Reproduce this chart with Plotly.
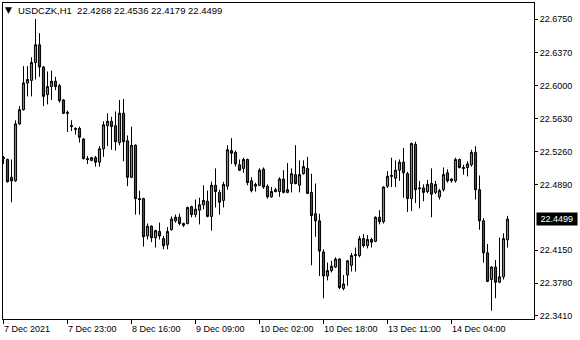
import plotly.graph_objects as go

# OHLC values (USDCZK, H1)
opens = [22.518,22.517,22.497,22.493,22.557,22.573,22.603,22.606,22.626,22.646,
         22.621,22.590,22.599,22.605,22.600,22.584,22.570,22.554,22.552,22.552,
         22.540,22.518,22.516,22.519,22.514,22.529,22.555,22.560,22.555,22.536,
         22.569,22.538,22.497,22.533,22.473,22.473,22.431,22.442,22.429,22.436,
         22.428,22.421,22.438,22.448,22.452,22.445,22.445,22.464,22.455,22.460,
         22.466,22.470,22.453,22.488,22.480,22.471,22.487,22.527,22.525,22.511,
         22.507,22.517,22.493,22.487,22.488,22.506,22.487,22.475,22.483,22.481,
         22.495,22.480,22.490,22.500,22.488,22.501,22.507,22.480,22.456,22.448,
         22.413,22.386,22.392,22.396,22.405,22.372,22.387,22.398,22.409,22.409,
         22.428,22.420,22.427,22.425,22.452,22.447,22.487,22.498,22.496,22.505,
         22.514,22.501,22.473,22.534,22.484,22.485,22.481,22.490,22.480,22.475,
         22.483,22.502,22.493,22.493,22.517,22.508,22.508,22.511,22.525,22.483,
         22.448,22.412,22.382,22.396,22.379,22.385,22.4268]
highs = [22.521,22.518,22.517,22.561,22.577,22.622,22.622,22.632,22.675,22.659,
         22.622,22.616,22.617,22.610,22.602,22.585,22.572,22.561,22.553,22.554,
         22.541,22.521,22.520,22.521,22.532,22.560,22.569,22.565,22.571,22.584,
         22.585,22.544,22.554,22.534,22.482,22.474,22.445,22.443,22.438,22.446,
         22.431,22.441,22.453,22.455,22.456,22.446,22.464,22.465,22.472,22.474,
         22.488,22.482,22.492,22.507,22.483,22.492,22.533,22.541,22.527,22.517,
         22.519,22.518,22.497,22.491,22.507,22.508,22.489,22.486,22.485,22.497,
         22.505,22.513,22.507,22.533,22.516,22.516,22.520,22.501,22.490,22.456,
         22.416,22.401,22.403,22.407,22.406,22.387,22.404,22.412,22.418,22.431,
         22.433,22.432,22.429,22.453,22.460,22.487,22.504,22.519,22.516,22.517,
         22.530,22.503,22.536,22.537,22.493,22.489,22.494,22.507,22.493,22.484,
         22.508,22.506,22.496,22.519,22.518,22.511,22.515,22.528,22.532,22.499,
         22.451,22.422,22.397,22.404,22.429,22.434,22.4536]
lows = [22.512,22.491,22.469,22.492,22.556,22.572,22.588,22.588,22.607,22.610,
        22.577,22.579,22.584,22.595,22.581,22.568,22.548,22.549,22.545,22.536,
        22.517,22.512,22.515,22.509,22.509,22.520,22.532,22.528,22.527,22.533,
        22.515,22.487,22.496,22.455,22.455,22.419,22.427,22.424,22.418,22.427,
        22.416,22.416,22.437,22.446,22.443,22.441,22.444,22.452,22.452,22.444,
        22.461,22.452,22.437,22.463,22.455,22.463,22.483,22.512,22.509,22.504,
        22.502,22.488,22.480,22.481,22.487,22.484,22.473,22.474,22.480,22.475,
        22.479,22.479,22.480,22.489,22.480,22.500,22.478,22.398,22.430,22.386,
        22.361,22.381,22.390,22.395,22.371,22.370,22.375,22.391,22.391,22.407,
        22.418,22.417,22.418,22.424,22.444,22.445,22.485,22.486,22.486,22.493,
        22.474,22.458,22.459,22.468,22.462,22.470,22.479,22.452,22.478,22.472,
        22.481,22.491,22.491,22.491,22.507,22.500,22.498,22.509,22.472,22.438,
        22.401,22.379,22.347,22.361,22.378,22.382,22.4179]
closes = [22.519,22.492,22.493,22.557,22.573,22.603,22.607,22.626,22.646,22.621,
          22.588,22.599,22.605,22.599,22.583,22.569,22.569,22.555,22.551,22.542,
          22.518,22.517,22.519,22.514,22.529,22.556,22.560,22.554,22.537,22.569,
          22.537,22.497,22.533,22.473,22.472,22.430,22.442,22.429,22.437,22.431,
          22.420,22.436,22.450,22.452,22.445,22.443,22.463,22.455,22.461,22.466,
          22.471,22.453,22.488,22.481,22.469,22.489,22.528,22.524,22.512,22.505,
          22.517,22.491,22.482,22.489,22.505,22.486,22.475,22.481,22.481,22.495,
          22.480,22.483,22.501,22.490,22.500,22.509,22.479,22.454,22.448,22.414,
          22.386,22.392,22.397,22.405,22.373,22.377,22.403,22.409,22.410,22.428,
          22.420,22.427,22.424,22.452,22.447,22.486,22.498,22.499,22.505,22.514,
          22.502,22.473,22.535,22.483,22.485,22.480,22.489,22.478,22.489,22.482,
          22.500,22.493,22.495,22.517,22.508,22.507,22.512,22.525,22.483,22.448,
          22.412,22.380,22.396,22.379,22.385,22.428,22.4499]

tick_bars = [0, 16, 32, 48, 64, 80, 96, 112]
tick_labels = ["7 Dec 2021", "7 Dec 23:00", "8 Dec 16:00", "9 Dec 09:00",
               "10 Dec 02:00", "10 Dec 18:00", "13 Dec 11:00", "14 Dec 04:00"]
price_ticks = [22.6750, 22.6370, 22.6000, 22.5630, 22.5260, 22.4890,
               22.4150, 22.3780, 22.3410]

symbol = "USDCZK,H1"
FONT = "Liberation Sans"
GREEN = "#3cb33c"
RED = "#d01010"

x = list(range(len(opens)))

fig = go.Figure(go.Candlestick(
    x=x, open=opens, high=highs, low=lows, close=closes,
    increasing=dict(fillcolor=GREEN, line=dict(color="black", width=1)),
    decreasing=dict(fillcolor=RED, line=dict(color="black", width=1)),
    whiskerwidth=0, hoverinfo="skip", showlegend=False,
))

fig.update_layout(
    width=580, height=340,
    margin=dict(l=3, r=46, t=3, b=21),
    paper_bgcolor="white", plot_bgcolor="white",
    font=dict(family=FONT, size=9, color="black"),
    showlegend=False,
    boxgap=0.25,
)
fig.update_xaxes(
    range=[-0.125, 132.625], rangeslider_visible=False,
    showgrid=False, zeroline=False,
    showline=True, linecolor="black", linewidth=1, mirror=True,
    ticks="outside", ticklen=4, tickcolor="black", tickwidth=1,
    tickvals=tick_bars, showticklabels=False,
)
fig.update_yaxes(
    range=[22.3376, 22.6930], side="right",
    showgrid=False, zeroline=False,
    showline=True, linecolor="black", linewidth=1, mirror=True,
    ticks="outside", ticklen=3, tickcolor="black", tickwidth=1,
    tickvals=price_ticks, ticktext=[f"{v:.4f}" for v in price_ticks],
    tickfont=dict(family=FONT, size=9, color="black"),
)

annotations = []
for b, lab in zip(tick_bars, tick_labels):
    annotations.append(dict(
        x=b, y=0, xref="x", yref="paper", text=lab, showarrow=False,
        xanchor="left", yanchor="top", xshift=-2, yshift=-3,
        font=dict(family=FONT, size=9, color="black"),
    ))
# title
annotations.append(dict(
    x=0, y=1, xref="paper", yref="paper", showarrow=False,
    text="▼", xanchor="left", yanchor="middle", xshift=0, yshift=-7,
    font=dict(family="DejaVu Sans", size=9, color="black"),
))
annotations.append(dict(
    x=0, y=1, xref="paper", yref="paper", showarrow=False,
    text=f"{symbol}  {opens[-1]:.4f} {highs[-1]:.4f} {lows[-1]:.4f} {closes[-1]:.4f}",
    xanchor="left", yanchor="middle", xshift=13, yshift=-7,
    font=dict(family=FONT, size=9.5, color="black"),
))
# current price label
annotations.append(dict(
    x=1, y=closes[-1], xref="paper", yref="y", showarrow=False,
    text=f" {closes[-1]:.4f} ", xanchor="left", yanchor="middle", xshift=2,
    bgcolor="black", borderpad=1,
    font=dict(family=FONT, size=9, color="white"),
))
fig.update_layout(annotations=annotations)

fig.write_html("out.html")
